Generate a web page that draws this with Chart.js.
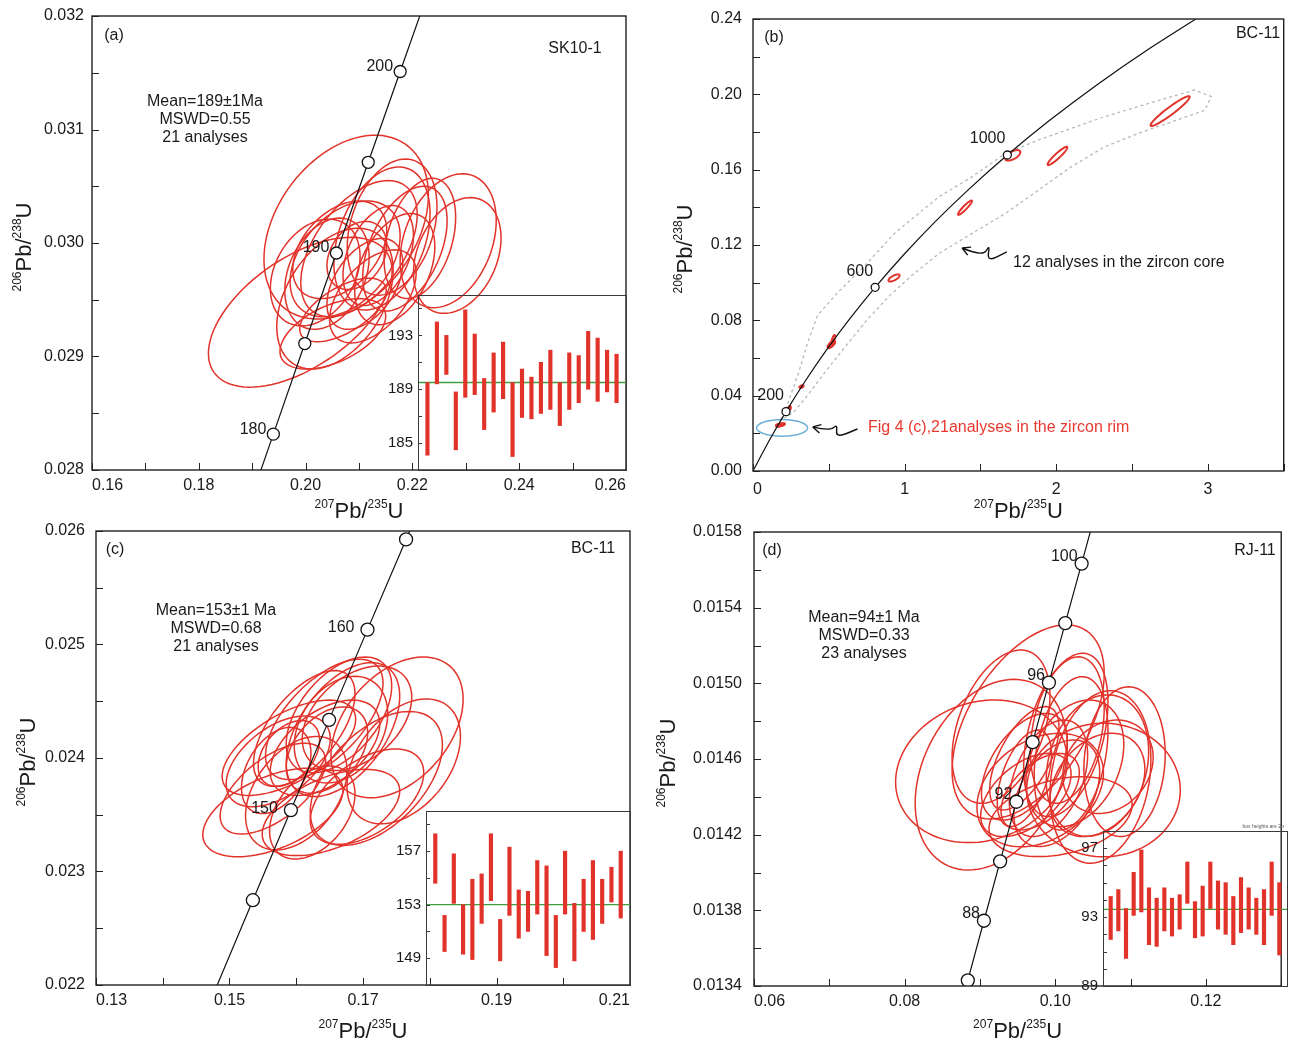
<!DOCTYPE html>
<html>
<head>
<meta charset="utf-8">
<script src="https://cdn.jsdelivr.net/npm/chart.js@4.4.1/dist/chart.umd.min.js"></script>
<style>
  body { margin: 0; background: #fff; width: 1289px; height: 1041px; position: relative; overflow: hidden; }
  canvas { position: absolute; }
</style>
</head>
<body>
<canvas id="ca" width="640" height="520" style="left:0;top:0"></canvas>
<canvas id="cb" width="644" height="520" style="left:645px;top:0"></canvas>
<canvas id="cc" width="640" height="521" style="left:0;top:520px"></canvas>
<canvas id="cd" width="644" height="521" style="left:645px;top:520px"></canvas>
<canvas id="ia" width="250" height="190" style="left:378px;top:285px"></canvas>
<canvas id="ic" width="246" height="187" style="left:386px;top:801px"></canvas>
<canvas id="id" width="226" height="180" style="left:1063px;top:816px"></canvas>
<script>
const FONT = "'Liberation Sans', Arial, Helvetica, sans-serif";
const RED = '#e2332b';
const INK = '#1a1a1a';
Chart.defaults.font.family = FONT;

// ---------- (a) SK10-1 ----------
const aEllX = [0.2076, 0.1990, 0.2267, 0.2284, 0.2055, 0.2162, 0.2143, 0.2100, 0.2214, 0.2040, 0.2018,
               0.2074, 0.2064, 0.2096, 0.2136, 0.2070, 0.2051, 0.2126, 0.2167, 0.2111, 0.2186];
const aEllY = [0.03014, 0.02939, 0.03002, 0.02989, 0.02951, 0.03014, 0.03004, 0.02995, 0.03004, 0.02973, 0.02974,
               0.02986, 0.02994, 0.02989, 0.02989, 0.02941, 0.02920, 0.02953, 0.02977, 0.02964, 0.02995];
const aEllSx = [0.0154, 0.0172, 0.0090, 0.0082, 0.0109, 0.0084, 0.0090, 0.0109, 0.0067, 0.0079, 0.0084,
                0.0103, 0.0088, 0.0056, 0.0066, 0.0081, 0.0099, 0.0081, 0.0075, 0.0071, 0.0079];
const aEllSy = [0.00081, 0.00066, 0.00059, 0.00051, 0.00062, 0.00060, 0.00063, 0.00060, 0.00053, 0.00049, 0.00047,
                0.00051, 0.00043, 0.00030, 0.00044, 0.00028, 0.00031, 0.00041, 0.00049, 0.00040, 0.00055];
const aEllRho = [0.35, 0.55, 0.3, 0.3, 0.4, 0.3, 0.35, 0.5, 0.35, 0.3, 0.3,
                 0.4, 0.4, 0.3, 0.4, 0.6, 0.5, 0.5, 0.4, 0.45, 0.45];
const aConcAge = [175, 180, 185, 190, 195, 200, 205];
const aConc207 = [0.18809, 0.19396, 0.19985, 0.20577, 0.21173, 0.21771, 0.22372];
const aConc206 = [0.027519, 0.028316, 0.029114, 0.029912, 0.030711, 0.031511, 0.032312];
const aMarkAge = [180, 185, 190, 195, 200];
const aLabelAge = [180, 190, 200];
const aXTicks = [0.16, 0.17, 0.18, 0.19, 0.20, 0.21, 0.22, 0.23, 0.24, 0.25, 0.26];
const aXLabels = ['0.16', '', '0.18', '', '0.20', '', '0.22', '', '0.24', '', '0.26'];
const aYTicks = [0.028, 0.0285, 0.029, 0.0295, 0.030, 0.0305, 0.031, 0.0315, 0.032];
const aYLabels = ['0.028', '', '0.029', '', '0.030', '', '0.031', '', '0.032'];
const aText = ['Mean=189±1Ma', 'MSWD=0.55', '21 analyses'];
const aBarLo = [184.1, 189.4, 190.1, 184.5, 188.4, 188.6, 186.0, 187.3, 188.3, 184.0, 186.9,
                186.8, 187.2, 187.5, 186.3, 187.5, 188.0, 189.0, 188.1, 188.8, 188.0];
const aBarHi = [189.5, 194.0, 193.0, 188.8, 194.9, 193.1, 189.8, 191.7, 192.5, 189.5, 190.5,
                189.9, 191.0, 191.9, 189.5, 191.7, 191.5, 193.3, 192.8, 191.9, 191.6];
const aMean = 189.5;
const aInTicks = [185, 187, 189, 191, 193, 195];
const aInLabels = ['185', '', '189', '', '193', ''];

// ---------- (b) BC-11 overview ----------
const bEllX = [2.751, 2.008, 1.713, 1.398, 0.930, 0.520, 0.530, 0.510, 0.320, 0.235, 0.240, 0.525, 0.180, 0.172, 0.190];
const bEllY = [0.1911, 0.1673, 0.1676, 0.1398, 0.1025, 0.0675, 0.0700, 0.0665, 0.0448, 0.0333, 0.0330, 0.0685, 0.0245, 0.0241, 0.0248];
const bEllSx = [0.129, 0.065, 0.050, 0.046, 0.037, 0.022, 0.012, 0.018, 0.014, 0.012, 0.010, 0.010, 0.028, 0.020, 0.020];
const bEllSy = [0.0079, 0.00485, 0.0028, 0.0038, 0.0019, 0.0016, 0.0022, 0.0012, 0.0007, 0.0012, 0.0008, 0.0015, 0.0007, 0.0006, 0.0006];
const bEllRho = [0.95, 0.93, 0.6, 0.93, 0.7, 0.6, 0.7, 0.5, 0.5, 0.8, 0.6, 0.6, 0.3, 0.5, 0.5];
const bConcAge = [0, 100, 200, 300, 400, 500, 600, 700, 800, 900, 1000, 1100, 1200, 1300, 1400];
const bConc207 = [0, 0.1035, 0.2177, 0.3437, 0.4828, 0.6363, 0.8056, 0.9925, 1.1987, 1.4263, 1.6774, 1.9545, 2.2603, 2.5977, 2.9701];
const bConc206 = [0, 0.01563, 0.03151, 0.04764, 0.06402, 0.08065, 0.09754, 0.11470, 0.13213, 0.14983, 0.16780, 0.18606, 0.20460, 0.22343, 0.24256];
const bMarkAge = [200, 600, 1000];
const bLabelAge = [200, 600, 1000];
const bXTicks = [0, 0.5, 1, 1.5, 2, 2.5, 3, 3.5];
const bXLabels = ['0', '', '1', '', '2', '', '3', ''];
const bYTicks = [0, 0.02, 0.04, 0.06, 0.08, 0.10, 0.12, 0.14, 0.16, 0.18, 0.20, 0.22, 0.24];
const bYLabels = ['0.00', '', '0.04', '', '0.08', '', '0.12', '', '0.16', '', '0.20', '', '0.24'];
const bEnvX = [0.18, 0.23, 0.30, 0.36, 0.425, 0.561, 0.737, 0.94, 1.228, 1.446, 1.666, 1.884, 2.322, 2.76, 2.913, 3.022,
               2.98, 2.783, 2.55, 2.32, 2.10, 1.884, 1.666, 1.446, 1.228, 1.05, 0.90, 0.76, 0.615, 0.48, 0.344, 0.263];
const bEnvY = [0.027, 0.036, 0.052, 0.068, 0.0826, 0.0949, 0.109, 0.1267, 0.1457, 0.1563, 0.1687, 0.1758, 0.1882, 0.1988, 0.2023, 0.1988,
               0.1915, 0.1860, 0.1795, 0.1722, 0.1616, 0.1492, 0.1368, 0.1262, 0.1156, 0.1040, 0.0930, 0.0810, 0.0667, 0.0530, 0.0385, 0.0308];
const bRimRing = [0.192, 0.0229, 0.168, 0.0044];
const bCoreArrowX = [1.379, 1.517, 1.563, 1.543, 1.674];
const bCoreArrowY = [0.1184, 0.1137, 0.1206, 0.1110, 0.1163];
const bRimArrowX = [0.394, 0.506, 0.558, 0.545, 0.689];
const bRimArrowY = [0.0234, 0.0212, 0.0250, 0.0175, 0.0223];

// ---------- (c) BC-11 rims ----------
const cEllX = [0.1565, 0.1589, 0.1573, 0.1612, 0.1642, 0.1664, 0.1670, 0.1751, 0.1720, 0.1706, 0.1652,
               0.1624, 0.1570, 0.1643, 0.1691, 0.1589, 0.1565, 0.1646, 0.1761, 0.1600, 0.1667];
const cEllY = [0.02352, 0.02409, 0.02397, 0.02426, 0.02434, 0.02438, 0.02425, 0.02427, 0.02382, 0.02366, 0.02352,
               0.02352, 0.02389, 0.02409, 0.02435, 0.02404, 0.02373, 0.02407, 0.02397, 0.02369, 0.02425];
const cEllSx = [0.0105, 0.0100, 0.0078, 0.0076, 0.0088, 0.0079, 0.0085, 0.0099, 0.0099, 0.0085, 0.0103,
                0.0064, 0.0052, 0.0082, 0.0082, 0.0046, 0.0079, 0.0061, 0.0085, 0.0076, 0.0070];
const cEllSy = [0.00039, 0.00042, 0.00040, 0.00051, 0.00053, 0.00051, 0.00059, 0.00062, 0.00059, 0.00042, 0.00038,
                0.00041, 0.00038, 0.00042, 0.00046, 0.00029, 0.00040, 0.00038, 0.00055, 0.00050, 0.00047];
const cEllRho = [0.5, 0.6, 0.5, 0.6, 0.6, 0.5, 0.5, 0.4, 0.5, 0.5, 0.5,
                 0.4, 0.4, 0.5, 0.4, 0.4, 0.6, 0.4, 0.4, 0.4, 0.3];
const cConcAge = [140, 145, 150, 155, 160, 165, 170];
const cConc207 = [0.14784, 0.15350, 0.15920, 0.16492, 0.17067, 0.17645, 0.18225];
const cConc206 = [0.021955, 0.022747, 0.023541, 0.024336, 0.025131, 0.025926, 0.026722];
const cMarkAge = [145, 150, 155, 160, 165];
const cLabelAge = [150, 160];
const cXTicks = [0.13, 0.14, 0.15, 0.16, 0.17, 0.18, 0.19, 0.20, 0.21];
const cXLabels = ['0.13', '', '0.15', '', '0.17', '', '0.19', '', '0.21'];
const cYTicks = [0.022, 0.0225, 0.023, 0.0235, 0.024, 0.0245, 0.025, 0.0255, 0.026];
const cYLabels = ['0.022', '', '0.023', '', '0.024', '', '0.025', '', '0.026'];
const cText = ['Mean=153±1 Ma', 'MSWD=0.68', '21 analyses'];
const cBarLo = [154.6, 149.5, 153.1, 149.3, 148.9, 151.6, 153.3, 148.8, 152.2, 150.5, 151.0,
                152.3, 149.2, 148.3, 152.3, 148.8, 151.0, 150.4, 151.6, 153.2, 152.0];
const cBarHi = [158.3, 152.2, 156.8, 153.0, 154.9, 155.3, 158.3, 151.9, 157.3, 154.1, 154.0,
                156.3, 155.9, 152.2, 157.0, 153.1, 154.9, 156.3, 154.9, 155.8, 157.0];
const cMean = 153.0;
const cInTicks = [149, 151, 153, 155, 157, 159];
const cInLabels = ['149', '', '153', '', '157', ''];

// ---------- (d) RJ-11 ----------
const dEllX = [0.0902, 0.0915, 0.0964, 0.0928, 0.1064, 0.1060, 0.1056, 0.1014, 0.1016, 0.1021, 0.0959, 0.0980,
               0.1007, 0.0961, 0.0991, 0.0959, 0.1056, 0.1092, 0.1026, 0.0980, 0.0959, 0.1070, 0.1002];
const dEllY = [0.014535, 0.014517, 0.014796, 0.014771, 0.014436, 0.014505, 0.014565, 0.014727, 0.014753, 0.014630, 0.014559, 0.014436,
               0.014295, 0.014410, 0.014498, 0.014498, 0.014463, 0.014586, 0.014577, 0.014427, 0.014604, 0.014559, 0.014419];
const dEllSx = [0.0114, 0.0101, 0.0101, 0.0065, 0.0102, 0.0067, 0.0068, 0.0056, 0.0049, 0.0049, 0.0057, 0.0084,
                0.0095, 0.0060, 0.0052, 0.0036, 0.0063, 0.0054, 0.0065, 0.0052, 0.0046, 0.0060, 0.0057];
const dEllSy = [0.000377, 0.000504, 0.000513, 0.000405, 0.000353, 0.000456, 0.000374, 0.000432, 0.000387, 0.000405, 0.000282, 0.000300,
                0.000211, 0.000220, 0.000308, 0.000255, 0.000273, 0.000396, 0.000335, 0.000202, 0.000273, 0.000247, 0.000282];
const dEllRho = [0.15, 0.3, 0.5, 0.4, 0.0, 0.2, 0.2, 0.4, 0.3, 0.3, 0.5, 0.3,
                 0.3, 0.5, 0.4, 0.5, 0.3, 0.1, 0.3, 0.5, 0.6, 0.2, 0.4];
const dConcAge = [84, 86, 88, 90, 92, 94, 96, 98, 100, 102];
const dConc207 = [0.08625, 0.08839, 0.09053, 0.09268, 0.09484, 0.09700, 0.09916, 0.10133, 0.10350, 0.10567];
const dConc206 = [0.013116, 0.013430, 0.013745, 0.014059, 0.014374, 0.014689, 0.015004, 0.015318, 0.015633, 0.015949];
const dMarkAge = [86, 88, 90, 92, 94, 96, 98, 100];
const dLabelAge = [88, 92, 96, 100];
const dXTicks = [0.06, 0.07, 0.08, 0.09, 0.10, 0.11, 0.12, 0.13];
const dXLabels = ['0.06', '', '0.08', '', '0.10', '', '0.12', ''];
const dYTicks = [0.0134, 0.0136, 0.0138, 0.0140, 0.0142, 0.0144, 0.0146, 0.0148, 0.0150, 0.0152, 0.0154, 0.0156, 0.0158];
const dYLabels = ['0.0134', '', '0.0138', '', '0.0142', '', '0.0146', '', '0.0150', '', '0.0154', '', '0.0158'];
const dText = ['Mean=94±1 Ma', 'MSWD=0.33', '23 analyses'];
const dBarLo = [91.7, 92.2, 90.6, 93.1, 93.3, 91.4, 91.3, 92.2, 91.9, 92.3, 93.8, 91.8,
                91.9, 93.5, 92.3, 92.0, 91.4, 92.1, 92.3, 92.0, 91.4, 93.1, 90.8];
const dBarHi = [94.2, 94.6, 93.5, 95.6, 96.9, 94.7, 94.1, 94.7, 94.1, 94.3, 96.2, 93.9,
                94.8, 96.2, 95.1, 95.0, 94.2, 95.3, 94.7, 94.1, 94.6, 96.2, 95.0];
const dMean = 93.45;
const dInTicks = [89, 90, 91, 92, 93, 94, 95, 96, 97];
const dInLabels = ['89', '', '', '', '93', '', '', '', '97'];

const X_TITLE = [['207', true], ['Pb/', false], ['235', true], ['U', false]];
const Y_TITLE = [['206', true], ['Pb/', false], ['238', true], ['U', false]];

function pts(xs, ys) { return xs.map((x, i) => ({ x: x, y: ys[i] })); }

function markPts(ages, marks, xs, ys) {
  return marks.map(a => { const i = ages.indexOf(a); return { x: xs[i], y: ys[i] }; });
}

function ellipsePath(ctx, xs, ys, cx, cy, ex, ey, rho) {
  const s = Math.sqrt(1 - rho * rho);
  ctx.beginPath();
  for (let k = 0; k <= 90; k++) {
    const t = k / 90 * 2 * Math.PI;
    const px = xs.getPixelForValue(cx + ex * Math.cos(t));
    const py = ys.getPixelForValue(cy + ey * (rho * Math.cos(t) + s * Math.sin(t)));
    if (k === 0) ctx.moveTo(px, py); else ctx.lineTo(px, py);
  }
  ctx.closePath();
}

function drawTitle(ctx, x, y, parts, vertical) {
  ctx.save();
  ctx.translate(x, y);
  if (vertical) ctx.rotate(-Math.PI / 2);
  ctx.fillStyle = INK;
  ctx.textAlign = 'left';
  ctx.textBaseline = 'alphabetic';
  let w = 0;
  parts.forEach(([t, sup]) => { ctx.font = (sup ? '12px ' : '22px ') + FONT; w += ctx.measureText(t).width; });
  let cx = -w / 2;
  parts.forEach(([t, sup]) => {
    ctx.font = (sup ? '12px ' : '22px ') + FONT;
    ctx.fillText(t, cx, sup ? -10 : 0);
    cx += ctx.measureText(t).width;
  });
  ctx.restore();
}

function squiggle(ctx, xs, ys, dx, dy) {
  const p = dx.map((v, i) => [xs.getPixelForValue(v), ys.getPixelForValue(dy[i])]);
  ctx.beginPath();
  ctx.moveTo(p[0][0], p[0][1]);
  for (let i = 1; i < p.length - 1; i++) {
    ctx.quadraticCurveTo(p[i][0], p[i][1], (p[i][0] + p[i + 1][0]) / 2, (p[i][1] + p[i + 1][1]) / 2);
  }
  ctx.lineTo(p[p.length - 1][0], p[p.length - 1][1]);
  const ang = Math.atan2(p[1][1] - p[0][1], p[1][0] - p[0][0]);
  [-0.5, 0.5].forEach(s => {
    ctx.moveTo(p[0][0], p[0][1]);
    ctx.lineTo(p[0][0] + 9 * Math.cos(ang + s), p[0][1] + 9 * Math.sin(ang + s));
  });
  ctx.stroke();
}

function panelPlugin(P) {
  return {
    id: 'panel',
    beforeDatasetsDraw(chart) {
      const { ctx, chartArea: a, scales: { x, y } } = chart;
      ctx.save();
      ctx.beginPath();
      ctx.rect(a.left, a.top, a.width, a.height);
      ctx.clip();
      if (P.envX) {
        ctx.strokeStyle = '#b8b8b8';
        ctx.lineWidth = 1.3;
        ctx.setLineDash([3, 3]);
        ctx.beginPath();
        P.envX.forEach((v, i) => {
          const px = x.getPixelForValue(v), py = y.getPixelForValue(P.envY[i]);
          if (i === 0) ctx.moveTo(px, py); else ctx.lineTo(px, py);
        });
        ctx.closePath();
        ctx.stroke();
        ctx.setLineDash([]);
      }
      ctx.strokeStyle = RED;
      ctx.lineWidth = P.ellW;
      P.ellX.forEach((cx, i) => {
        ellipsePath(ctx, x, y, cx, P.ellY[i], P.ellSx[i], P.ellSy[i], P.ellRho[i]);
        ctx.stroke();
      });
      if (P.ring) {
        ctx.strokeStyle = '#6aaed6';
        ctx.lineWidth = 1.5;
        ellipsePath(ctx, x, y, P.ring[0], P.ring[1], P.ring[2], P.ring[3], 0);
        ctx.stroke();
      }
      ctx.restore();
    },
    afterDraw(chart) {
      const { ctx, chartArea: a, scales: { x, y } } = chart;
      ctx.save();
      // age labels on the concordia
      ctx.fillStyle = INK;
      ctx.font = '16px ' + FONT;
      ctx.textAlign = 'right';
      ctx.textBaseline = 'middle';
      P.labelAge.forEach(age => {
        const i = P.concAge.indexOf(age);
        const px = x.getPixelForValue(P.conc207[i]), py = y.getPixelForValue(P.conc206[i]);
        ctx.fillText(String(age), px + P.lblDx, py + P.lblDy);
      });
      // frame
      ctx.strokeStyle = '#222';
      ctx.lineWidth = 1.4;
      ctx.strokeRect(a.left, a.top, a.width, a.height);
      // inward ticks
      ctx.lineWidth = 1;
      ctx.beginPath();
      P.xTicks.forEach(v => {
        const px = Math.round(x.getPixelForValue(v)) + 0.5;
        ctx.moveTo(px, a.bottom); ctx.lineTo(px, a.bottom - 7);
      });
      P.yTicks.forEach(v => {
        const py = Math.round(y.getPixelForValue(v)) + 0.5;
        ctx.moveTo(a.left, py); ctx.lineTo(a.left + 7, py);
      });
      ctx.stroke();
      // panel tag and sample name
      ctx.textAlign = 'center';
      ctx.font = '16px ' + FONT;
      ctx.fillText(P.tag, P.tagPos[0], P.tagPos[1]);
      ctx.fillText(P.sample, P.samplePos[0], P.samplePos[1]);
      if (P.text) {
        ctx.font = '16px ' + FONT;
        P.text.forEach((t, i) => ctx.fillText(t, P.textPos[0], P.textPos[1] + i * 18));
      }
      if (P.notes) {
        ctx.textAlign = 'left';
        P.notes.forEach(n => { ctx.fillStyle = n.color; ctx.fillText(n.text, n.x, n.y); });
        ctx.strokeStyle = '#111';
        ctx.lineWidth = 1.4;
        P.arrows.forEach(ar => squiggle(ctx, x, y, ar[0], ar[1]));
      }
      // axis titles
      drawTitle(ctx, (a.left + a.right) / 2, 518, X_TITLE, false);
      drawTitle(ctx, P.yTitleX, (a.top + a.bottom) / 2 + 4, Y_TITLE, true);
      ctx.restore();
    }
  };
}

function zeroPad(s) { s.paddingTop = 0; s.paddingBottom = 0; s.paddingLeft = 0; s.paddingRight = 0; }

const NO_GRID = { display: false, drawTicks: false, tickLength: 0 };

function buildMain(P) {
  return new Chart(document.getElementById(P.id), {
    type: 'scatter',
    data: {
      datasets: [
        {
          data: markPts(P.concAge, P.markAge, P.conc207, P.conc206),
          pointRadius: P.markR,
          pointBackgroundColor: '#fff',
          pointBorderColor: '#111',
          pointBorderWidth: 1.3,
          showLine: false
        },
        {
          data: pts(P.conc207, P.conc206),
          showLine: true,
          borderColor: '#111',
          borderWidth: 1.2,
          pointRadius: 0,
          tension: P.tension,
          fill: false
        }
      ]
    },
    options: {
      responsive: false,
      animation: false,
      events: [],
      layout: { padding: { left: 0, top: P.top, right: P.right, bottom: 0 } },
      plugins: { legend: { display: false }, tooltip: { enabled: false } },
      scales: {
        x: {
          type: 'linear', min: P.xMin, max: P.xMax,
          grid: NO_GRID, border: { display: false },
          afterBuildTicks: s => { s.ticks = P.xTicks.map(v => ({ value: v })); },
          afterFit: s => { s.height = P.xH; zeroPad(s); },
          ticks: {
            align: 'inner', autoSkip: false, maxRotation: 0, padding: P.xPad, color: INK,
            font: { family: FONT, size: 16 },
            callback: (v, i) => P.xLabels[i]
          }
        },
        y: {
          type: 'linear', min: P.yMin, max: P.yMax,
          grid: NO_GRID, border: { display: false },
          afterBuildTicks: s => { s.ticks = P.yTicks.map(v => ({ value: v })); },
          afterFit: s => { s.width = P.yW; zeroPad(s); },
          ticks: {
            autoSkip: false, padding: P.yPad, color: INK,
            font: { family: FONT, size: 16 },
            callback: (v, i) => P.yLabels[i]
          }
        }
      }
    },
    plugins: [panelPlugin(P)]
  });
}

function buildInset(I) {
  return new Chart(document.getElementById(I.id), {
    type: 'bar',
    data: {
      datasets: [
        {
          type: 'bar',
          data: I.lo.map((v, i) => ({ x: i, y: [v, I.hi[i]] })),
          backgroundColor: RED,
          barThickness: 3.5
        },
        {
          type: 'line',
          data: [{ x: -1, y: I.mean }, { x: I.lo.length, y: I.mean }],
          borderColor: '#3f9f3f',
          borderWidth: 1.3,
          pointRadius: 0
        }
      ]
    },
    options: {
      responsive: false,
      animation: false,
      events: [],
      layout: { padding: { left: 0, top: I.top, right: I.right, bottom: I.bottom } },
      plugins: { legend: { display: false }, tooltip: { enabled: false } },
      scales: {
        x: { type: 'linear', min: -1, max: I.lo.length, offset: false, display: false },
        y: {
          type: 'linear', min: I.yMin, max: I.yMax,
          grid: NO_GRID, border: { display: false },
          afterBuildTicks: s => { s.ticks = I.ticks.map(v => ({ value: v })); },
          afterFit: s => { s.width = 40; zeroPad(s); },
          ticks: {
            autoSkip: false, padding: 5, color: INK,
            font: { family: FONT, size: 15 },
            callback: (v, i) => I.labels[i]
          }
        }
      }
    },
    plugins: [{
      id: 'insetFrame',
      afterDraw(chart) {
        const { ctx, chartArea: a, scales: { y } } = chart;
        ctx.save();
        ctx.strokeStyle = '#3a3a3a';
        ctx.lineWidth = 1;
        ctx.strokeRect(a.left + 0.5, a.top + 0.5, a.width, a.height);
        ctx.beginPath();
        I.ticks.forEach(v => {
          const py = Math.round(y.getPixelForValue(v)) + 0.5;
          ctx.moveTo(a.left, py); ctx.lineTo(a.left + 4, py);
        });
        ctx.stroke();
        if (I.note) {
          ctx.fillStyle = '#555';
          ctx.font = '5px ' + FONT;
          ctx.textAlign = 'right';
          ctx.fillText(I.note, a.right - 3, a.top - 3);
        }
        ctx.restore();
      }
    }]
  });
}

buildMain({
  id: 'ca', xMin: 0.16, xMax: 0.26, yMin: 0.028, yMax: 0.032,
  xTicks: aXTicks, xLabels: aXLabels, yTicks: aYTicks, yLabels: aYLabels,
  ellX: aEllX, ellY: aEllY, ellSx: aEllSx, ellSy: aEllSy, ellRho: aEllRho, ellW: 1.5,
  concAge: aConcAge, conc207: aConc207, conc206: aConc206, markAge: aMarkAge, labelAge: aLabelAge,
  tension: 0, markR: 6, lblDx: -7, lblDy: -5,
  yW: 92, xH: 50, top: 16, right: 14, xPad: 6, yPad: 8, yTitleX: 31,
  tag: '(a)', tagPos: [114, 36], sample: 'SK10-1', samplePos: [575, 49],
  text: aText, textPos: [205, 102]
});

buildMain({
  id: 'cb', xMin: 0, xMax: 3.5, yMin: 0, yMax: 0.24,
  xTicks: bXTicks, xLabels: bXLabels, yTicks: bYTicks, yLabels: bYLabels,
  ellX: bEllX, ellY: bEllY, ellSx: bEllSx, ellSy: bEllSy, ellRho: bEllRho, ellW: 2,
  envX: bEnvX, envY: bEnvY, ring: bRimRing,
  concAge: bConcAge, conc207: bConc207, conc206: bConc206, markAge: bMarkAge, labelAge: bLabelAge,
  tension: 0.2, markR: 4, lblDx: -2, lblDy: -16,
  yW: 108, xH: 49, top: 19, right: 3, xPad: 9, yPad: 11, yTitleX: 47,
  tag: '(b)', tagPos: [129, 38], sample: 'BC-11', samplePos: [613, 34],
  notes: [
    { text: '12 analyses in the zircon core', x: 368, y: 263, color: INK },
    { text: 'Fig 4 (c),21analyses in the zircon rim', x: 223, y: 428, color: '#e8392f' }
  ],
  arrows: [[bCoreArrowX, bCoreArrowY], [bRimArrowX, bRimArrowY]]
});

buildMain({
  id: 'cc', xMin: 0.13, xMax: 0.21, yMin: 0.022, yMax: 0.026,
  xTicks: cXTicks, xLabels: cXLabels, yTicks: cYTicks, yLabels: cYLabels,
  ellX: cEllX, ellY: cEllY, ellSx: cEllSx, ellSy: cEllSy, ellRho: cEllRho, ellW: 1.5,
  concAge: cConcAge, conc207: cConc207, conc206: cConc206, markAge: cMarkAge, labelAge: cLabelAge,
  tension: 0, markR: 6.5, lblDx: -13, lblDy: -2,
  yW: 96, xH: 56, top: 11, right: 10, xPad: 6, yPad: 11, yTitleX: 35,
  tag: '(c)', tagPos: [115, 30], sample: 'BC-11', samplePos: [593, 29],
  text: cText, textPos: [216, 91]
});

buildMain({
  id: 'cd', xMin: 0.06, xMax: 0.13, yMin: 0.0134, yMax: 0.0158,
  xTicks: dXTicks, xLabels: dXLabels, yTicks: dYTicks, yLabels: dYLabels,
  ellX: dEllX, ellY: dEllY, ellSx: dEllSx, ellSy: dEllSy, ellRho: dEllRho, ellW: 1.5,
  concAge: dConcAge, conc207: dConc207, conc206: dConc206, markAge: dMarkAge, labelAge: dLabelAge,
  tension: 0, markR: 6.5, lblDx: -4, lblDy: -7,
  yW: 109, xH: 55, top: 12, right: 2, xPad: 6, yPad: 12, yTitleX: 30,
  tag: '(d)', tagPos: [127, 31], sample: 'RJ-11', samplePos: [610, 31],
  text: dText, textPos: [219, 98]
});

buildInset({ id: 'ia', lo: aBarLo, hi: aBarHi, mean: aMean, yMin: 183, yMax: 196,
  ticks: aInTicks, labels: aInLabels, top: 10, right: 2, bottom: 5 });
buildInset({ id: 'ic', lo: cBarLo, hi: cBarHi, mean: cMean, yMin: 147, yMax: 160,
  ticks: cInTicks, labels: cInLabels, top: 10, right: 2, bottom: 3 });
buildInset({ id: 'id', lo: dBarLo, hi: dBarHi, mean: dMean, yMin: 89, yMax: 98,
  ticks: dInTicks, labels: dInLabels, top: 15, right: 2, bottom: 10, note: 'box heights are 2σ' });
</script>
</body>
</html>
